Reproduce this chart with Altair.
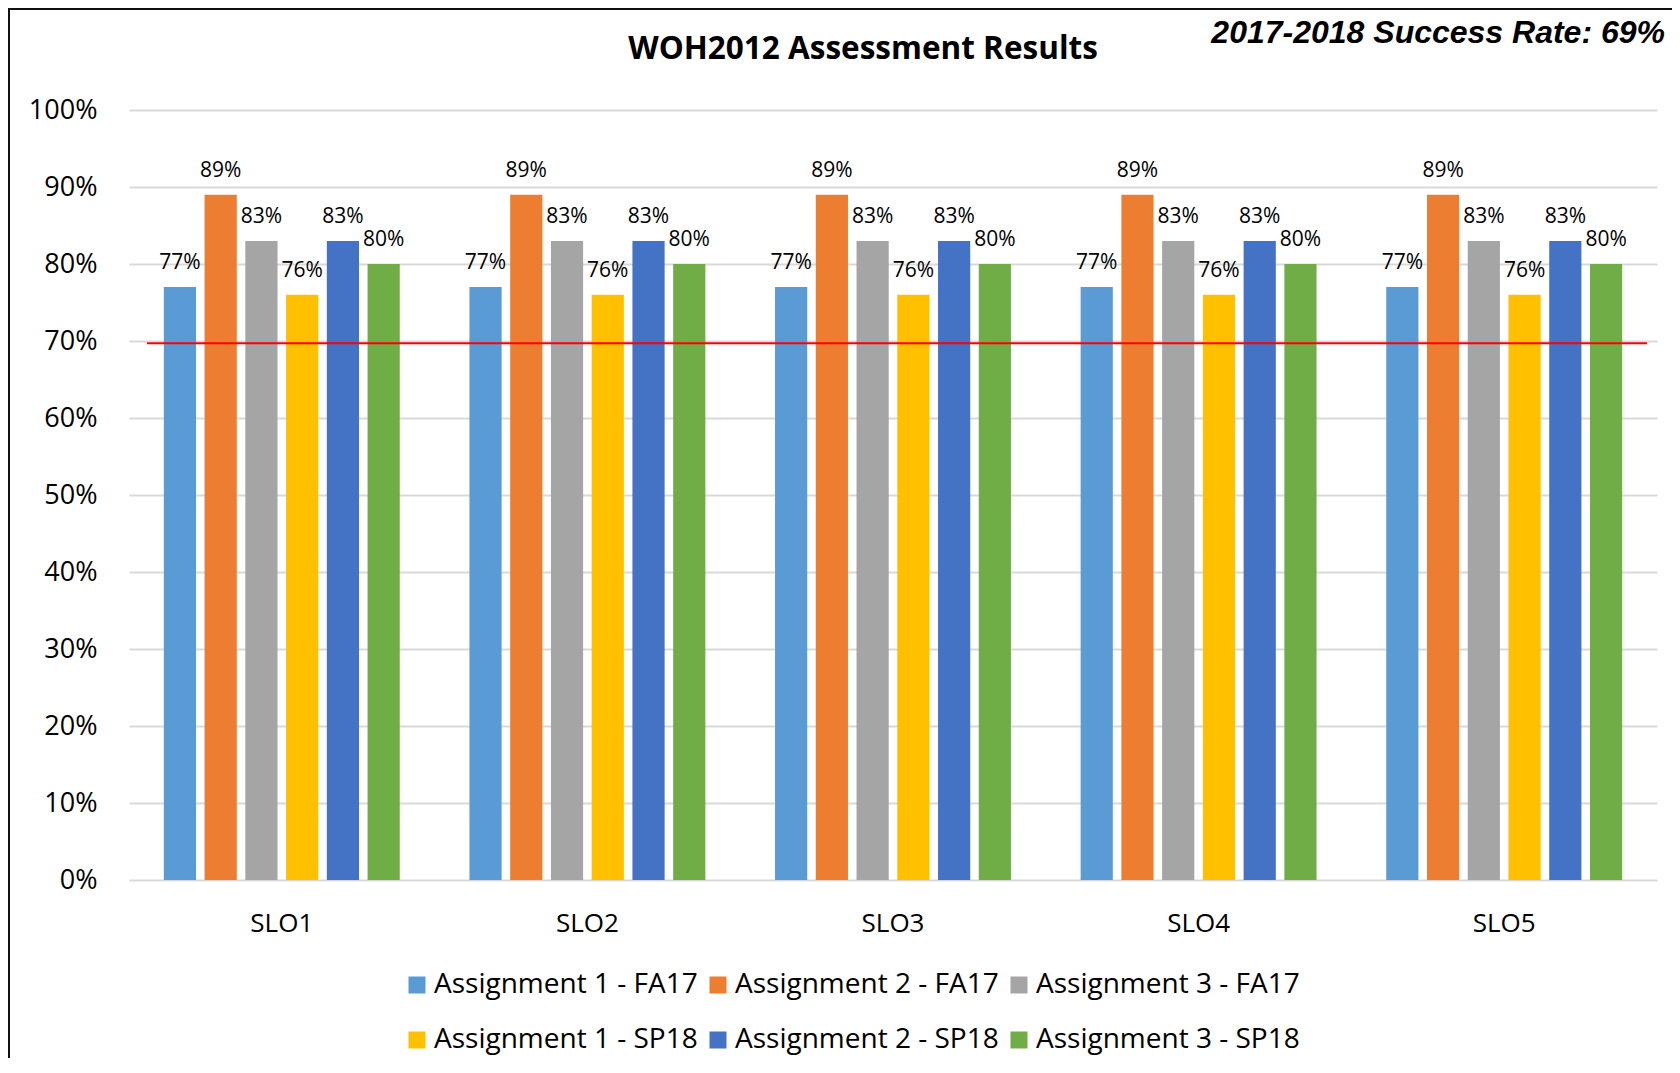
import altair as alt
import pandas as pd

# ---- data ----
slos = ["SLO1", "SLO2", "SLO3", "SLO4", "SLO5"]
series = [
    "Assignment 1 - FA17",
    "Assignment 2 - FA17",
    "Assignment 3 - FA17",
    "Assignment 1 - SP18",
    "Assignment 2 - SP18",
    "Assignment 3 - SP18",
]
a1_fa17 = [0.77, 0.77, 0.77, 0.77, 0.77]
a2_fa17 = [0.89, 0.89, 0.89, 0.89, 0.89]
a3_fa17 = [0.83, 0.83, 0.83, 0.83, 0.83]
a1_sp18 = [0.76, 0.76, 0.76, 0.76, 0.76]
a2_sp18 = [0.83, 0.83, 0.83, 0.83, 0.83]
a3_sp18 = [0.80, 0.80, 0.80, 0.80, 0.80]
colors = ["#5B9BD5", "#ED7D31", "#A5A5A5", "#FFC000", "#4472C4", "#70AD47"]
success_rate_line = [0.697]
title_text = ["WOH2012 Assessment Results"]
note_text = ["2017-2018 Success Rate: 69%"]
y_ticks = [0, 0.1, 0.2, 0.3, 0.4, 0.5, 0.6, 0.7, 0.8, 0.9, 1.0]

all_vals = [a1_fa17, a2_fa17, a3_fa17, a1_sp18, a2_sp18, a3_sp18]
rows = []
for s, vals in zip(series, all_vals):
    for slo, v in zip(slos, vals):
        rows.append({"SLO": slo, "Series": s, "Value": v})
df = pd.DataFrame(rows)

W, H = 1528, 770
FONT = "Open Sans"

x_enc = alt.X("SLO:N", sort=slos, title=None,
              scale=alt.Scale(paddingInner=0.2, paddingOuter=0.1),
              axis=alt.Axis(labelFont=FONT, labelFontSize=26, labelColor="#000000",
                            labelPadding=30, ticks=False, domain=False, labelAngle=0))
xoff_enc = alt.XOffset("Series:N", sort=series,
                       scale=alt.Scale(paddingInner=0.21, paddingOuter=0.105))
y_enc = alt.Y("Value:Q", title=None,
              scale=alt.Scale(domain=[0, 1], nice=False),
              axis=alt.Axis(values=y_ticks, format=".0%", labelFont=FONT, labelFontSize=27,
                            labelColor="#000000", labelPadding=32, ticks=False, domain=False,
                            grid=True, gridColor="#D9D9D9", gridWidth=2))

base = alt.Chart(df)

bars = base.mark_bar().encode(
    x=x_enc,
    xOffset=xoff_enc,
    y=y_enc,
    color=alt.Color("Series:N", sort=series,
                    scale=alt.Scale(domain=series, range=colors),
                    legend=alt.Legend(title=None, orient="none", legendX=274, legendY=861,
                                      direction="horizontal", columns=3,
                                      symbolType="square", symbolSize=289, symbolStrokeWidth=0,
                                      labelFont=FONT, labelFontSize=28, labelColor="#000000",
                                      labelOffset=3, columnPadding=6, rowPadding=27,
                                      padding=0, labelLimit=400)),
)

labels = base.mark_text(font=FONT, fontSize=21, color="#000000", dy=-18,
                        baseline="alphabetic", align="center").encode(
    x=alt.X("SLO:N", sort=slos),
    xOffset=alt.XOffset("Series:N", sort=series),
    y=alt.Y("Value:Q"),
    text=alt.Text("Value:Q", format=".0%"),
)

red = alt.Chart(pd.DataFrame({"rate": success_rate_line})).mark_rule(
    color="#FF0000", strokeWidth=2).encode(
    y="rate:Q", x=alt.value(18), x2=alt.value(1518))

title = alt.Chart(pd.DataFrame({"t": title_text})).mark_text(
    font=FONT, fontSize=31.5, fontWeight="bold", color="#000000",
    align="center", baseline="alphabetic").encode(
    text="t:N", x=alt.value(734), y=alt.value(-51))

note = alt.Chart(pd.DataFrame({"t": note_text})).mark_text(
    font="Liberation Sans", fontSize=32, fontWeight="bold", fontStyle="italic",
    color="#000000", align="right", baseline="alphabetic").encode(
    text="t:N", x=alt.value(1536), y=alt.value(-67))

frame_df = pd.DataFrame({"k": [0]})
frame_left = alt.Chart(frame_df).mark_rule(color="#111111", strokeWidth=2).encode(
    x=alt.value(-120), y=alt.value(-101), y2=alt.value(950))
frame_top = alt.Chart(frame_df).mark_rule(color="#111111", strokeWidth=2).encode(
    x=alt.value(-121), x2=alt.value(1543), y=alt.value(-101))

chart = alt.layer(bars, labels, red, title, note, frame_left, frame_top).properties(
    width=W, height=H,
    autosize=alt.AutoSizeParams(type="none"),
    padding={"left": 121, "top": 102, "right": 15, "bottom": 178},
    background="white",
).configure_view(stroke=None)

chart.save("out.html", embed_options={"renderer": "svg", "actions": False})
